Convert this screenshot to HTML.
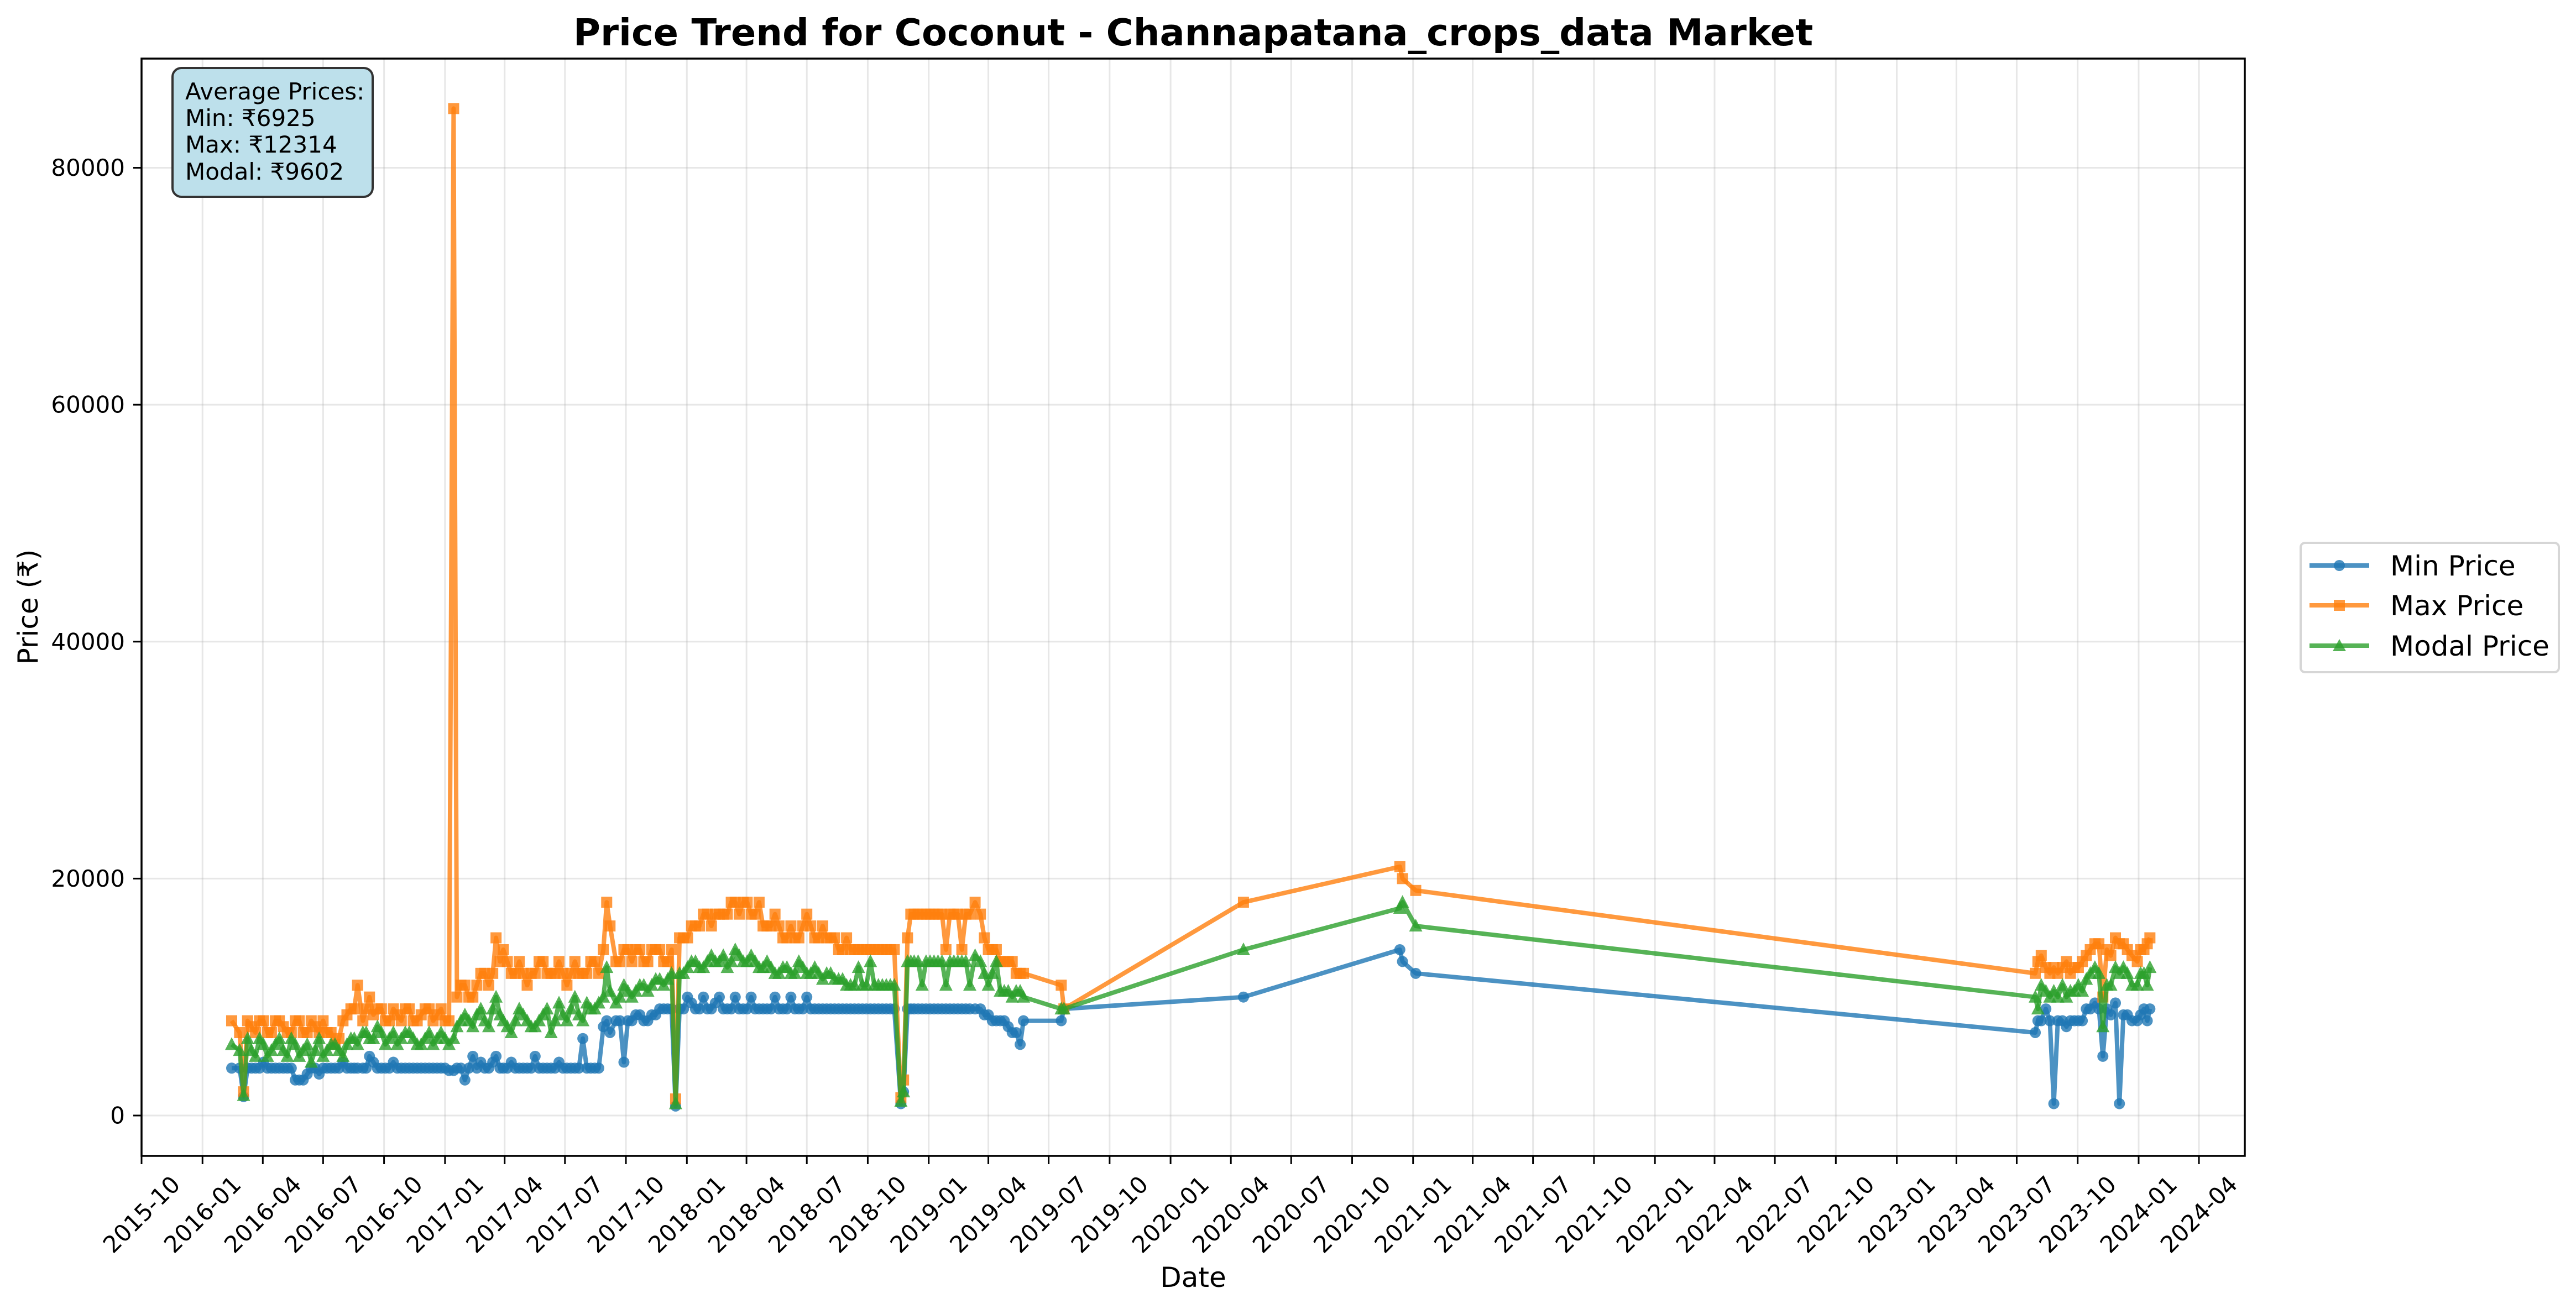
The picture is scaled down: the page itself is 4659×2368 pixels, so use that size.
<!DOCTYPE html>
<html>
<head>
<meta charset="utf-8">
<style>
  html, body { margin: 0; padding: 0; background: #ffffff; }
  svg { display: block; font-family: "DejaVu Sans", "Liberation Sans", sans-serif; }
</style>
</head>
<body>
<svg id="chart" xmlns="http://www.w3.org/2000/svg" width="4659" height="2368" viewBox="0 0 4659 2368">
  <rect x="0" y="0" width="4659" height="2368" fill="#ffffff"/>
  <g id="grid"></g>
  <g id="series"></g>
  <rect x="256" y="106" width="3804" height="1985" fill="none" stroke="#000" stroke-width="3.5"/>
  <g id="axes"></g>
  <text x="2158" y="82" text-anchor="middle" font-size="67" font-weight="bold" fill="#000">Price Trend for Coconut - Channapatana_crops_data Market</text>
  <text x="2158" y="2328" text-anchor="middle" font-size="50" fill="#000">Date</text>
  <text transform="translate(68,1098) rotate(-90)" text-anchor="middle" font-size="50" fill="#000">Price (₹)</text>

  <g>
    <rect x="312" y="123" width="362" height="233" rx="16" ry="16" fill="#bde0eb" stroke="#333" stroke-width="4"/>
    <text x="335" y="180" font-size="42" fill="#000">Average Prices:</text>
    <text x="335" y="228" font-size="42" fill="#000">Min: ₹6925</text>
    <text x="335" y="276" font-size="42" fill="#000">Max: ₹12314</text>
    <text x="335" y="325" font-size="42" fill="#000">Modal: ₹9602</text>
  </g>

  <g>
    <rect x="4161" y="982" width="467" height="234" rx="8" ry="8" fill="#fff" stroke="#d6d6d6" stroke-width="4"/>
    <g>
      <line x1="4177" y1="1023" x2="4285" y2="1023" stroke="#1f77b4" stroke-opacity="0.8" stroke-width="8"/>
      <circle cx="4231" cy="1023" r="10" fill="#1f77b4" fill-opacity="0.8"/>
      <text x="4323" y="1041" font-size="50" fill="#000">Min Price</text>
    </g>
    <g>
      <line x1="4177" y1="1095" x2="4285" y2="1095" stroke="#ff7f0e" stroke-opacity="0.8" stroke-width="8"/>
      <rect x="4221" y="1085" width="20" height="20" fill="#ff7f0e" fill-opacity="0.8"/>
      <text x="4323" y="1113" font-size="50" fill="#000">Max Price</text>
    </g>
    <g>
      <line x1="4177" y1="1168" x2="4285" y2="1168" stroke="#2ca02c" stroke-opacity="0.8" stroke-width="8"/>
      <polygon points="4231,1156 4243,1178 4219,1178" fill="#2ca02c" fill-opacity="0.8"/>
      <text x="4323" y="1186" font-size="50" fill="#000">Modal Price</text>
    </g>
  </g>
</svg>
<script>
// ---- data (days since 2015-10-01) ----
const dayOffsets = [136,148,154,160,172,184,196,208,220,232,244,256,268,280,292,304,316,326,334,344,356,368,380,392,404,416,428,440,452,464,471,476,488,500,512,524,535,546,558,570,582,594,606,618,630,642,654,666,678,690,697,702,707,716,728,740,752,764,776,788,800,806,812,824,836,848,860,872,884,896,908,920,932,944,956,968,980,992,1004,1016,1028,1040,1052,1064,1076,1088,1100,1112,1124,1136,1146,1150,1156,1166,1178,1190,1202,1214,1226,1238,1250,1258,1266,1278,1290,1302,1314,1326,1331,1388,1392,1663,1899,1903,1923,2858,2862,2867,2874,2880,2886,2892,2899,2905,2911,2917,2923,2929,2935,2941,2948,2954,2960,2966,2972,2979,2985,2991,2997,3004,3012,3017,3022,3027,3031];
const minPrices = [4000,4000,1600,4000,4000,4500,4000,4000,4000,3000,3000,4000,3500,4000,4000,4500,4000,4000,4000,5000,4000,4000,4500,4000,4000,4000,4000,4000,4000,3800,3800,4000,3000,5000,4500,4000,5000,4000,4500,4000,4000,5000,4000,4000,4500,4000,4000,6500,4000,4000,7500,8000,7000,8000,4500,8000,8500,8000,8500,9000,9000,800,9000,10000,9000,10000,9000,10000,9000,10000,9000,10000,9000,9000,10000,9000,10000,9000,10000,9000,9000,9000,9000,9000,9000,9000,9000,9000,9000,9000,1000,2000,9000,9000,9000,9000,9000,9000,9000,9000,9000,9000,9000,8500,8000,8000,7000,6000,8000,8000,9000,10000,14000,13000,12000,7000,8000,8000,9000,8000,1000,8000,8000,7500,8000,8000,8000,8000,9000,9000,9500,9000,5000,9000,8500,9500,1000,8500,8500,8000,8000,8500,9000,8000,9000];
const maxPrices = [8000,7000,2000,8000,7000,8000,7000,8000,7000,8000,7000,8000,7000,7000,6000,8000,9000,11000,8000,10000,9000,8000,9000,8000,9000,8000,9000,8000,9000,8000,85000,10000,11000,10000,12000,11000,15000,14000,12000,13000,11000,12000,13000,12000,13000,11000,13000,12000,13000,12000,14000,18000,16000,13000,14000,13000,14000,13000,14000,13000,14000,1400,15000,15000,16000,17000,16000,17000,17000,18000,18000,17000,18000,16000,17000,15000,16000,15000,17000,15000,16000,15000,14000,15000,14000,14000,14000,14000,14000,14000,1500,3000,15000,17000,17000,17000,17000,14000,17000,14000,17000,18000,17000,14000,14000,13000,13000,12000,12000,11000,9000,18000,21000,20000,19000,12000,13000,13500,12500,12000,12500,12000,12500,13000,12000,12500,12500,13000,13500,14000,14500,14500,10000,14000,13500,15000,14500,14500,14000,13500,13000,14000,14000,14500,15000];
const modalPrices = [6000,5500,1700,6500,5000,6000,5500,6500,5000,6000,5500,4500,6500,5500,6000,5000,6500,6000,7000,6500,7500,6000,7000,6500,7000,6000,6500,6000,7000,6000,6500,7500,8500,7500,9000,7500,10000,8000,7000,9000,8000,7500,8500,7000,9500,8000,10000,8000,9000,9500,10000,12500,10500,9500,11000,10000,11000,10500,11500,11000,12000,1000,12000,12500,13000,12500,13500,13000,12500,14000,13000,13500,12500,13000,12000,12500,12000,13000,12000,12500,11500,12000,11500,11000,11000,11000,13000,11000,11000,11000,1200,2000,13000,13000,11000,13000,13000,11000,13000,13000,11000,13500,13000,11000,13000,10500,10000,10500,10000,9000,9000,14000,17500,18000,16000,10000,9000,11000,10500,10000,10500,10000,11000,10000,10500,10500,11000,10500,11500,12000,12500,12000,7500,11000,11000,12500,12000,12500,12000,11000,11000,12000,12000,11000,12500];
// additional dense-period observations
const extraDays = [166,178,190,202,214,226,238,250,262,274,286,298,310,321,339,350,362,374,386,398,410,422,434,446,458,
  482,494,506,518,530,541,552,564,576,588,600,612,624,636,648,660,672,684,
  722,734,746,758,770,782,794,
  818,830,842,854,866,878,890,902,914,926,938,950,962,974,986,998,1010,1022,1034,1046,1058,1070,1082,1094,1106,1118,1130,
  1161,1172,1184,1196,1208,1220,1232,1244,1272,1284,1296,1308,1320];
const extraMin = [4000,4000,4000,4000,4000,4000,3000,3500,4000,4000,4000,4000,4000,4000,4000,4500,4000,4000,4000,4000,4000,4000,4000,4000,4000,
  4000,4000,4000,4000,4500,4000,4000,4000,4000,4000,4000,4000,4000,4000,4000,4000,4000,4000,
  8000,8000,8500,8000,8500,9000,9000,
  9000,9500,9000,9000,9500,9000,9000,9000,9000,9000,9000,9000,9000,9000,9000,9000,9000,9000,9000,9000,9000,9000,9000,9000,9000,9000,9000,
  9000,9000,9000,9000,9000,9000,9000,9000,8500,8000,8000,7500,7000];
const extraMax = [7500,8000,7000,8000,7500,7000,8000,7000,7500,8000,7000,6500,8500,9000,9000,8500,9000,8000,8500,9000,8000,8500,9000,8500,8000,
  11000,10000,11000,12000,12000,13000,13000,12000,12000,12000,13000,12000,12000,12000,12000,12000,12000,13000,
  13000,14000,14000,13000,14000,14000,13000,
  15000,16000,16000,17000,17000,17000,18000,17000,18000,17000,16000,16000,16000,15000,15000,16000,16000,15000,15000,15000,14000,14000,14000,14000,14000,14000,14000,
  17000,17000,17000,17000,17000,17000,17000,17000,15000,14000,13000,13000,12000];
const extraModal = [5500,6500,5000,6000,5500,6500,5000,6000,5500,5000,6000,5500,6000,6500,7000,6500,7000,6500,6000,7000,6500,6000,7000,6500,6500,
  8000,8000,8500,8000,9000,8500,7500,8000,8500,7500,8000,9000,8000,8500,9000,8500,9500,9000,
  10000,10500,10500,11000,11000,11500,11500,
  12000,13000,12500,13000,13000,13500,13000,13500,13000,13000,12500,12500,12000,12500,12000,12500,12000,12000,12000,11500,11500,11000,12500,11000,11000,11000,11000,
  13000,13000,13000,13000,13000,13000,13000,13000,12000,12000,10500,10500,10500];
const yTickValues = [0,20000,40000,60000,80000];

// ---- scales ----
const X0 = 256, PX_PER_DAY = 1.1984, Y0 = 2018, PX_PER_UNIT = 0.021431;
const PLOT_L = 256, PLOT_R = 4060, PLOT_T = 106, PLOT_B = 2091;
function xScale(day) { return X0 + day * PX_PER_DAY; }
function yScale(v) { return Y0 - v * PX_PER_UNIT; }
const ORIGIN = Date.UTC(2015, 9, 1);
function dayOf(y, m) { return (Date.UTC(y, m - 1, 1) - ORIGIN) / 86400000; }

const NS = 'http://www.w3.org/2000/svg';
function mk(tag, attrs, parent) {
  const el = document.createElementNS(NS, tag);
  for (const k in attrs) el.setAttribute(k, attrs[k]);
  parent.appendChild(el);
  return el;
}
const grid = document.getElementById('grid');
const axes = document.getElementById('axes');
const seriesG = document.getElementById('series');

// x ticks quarterly 2015-10 .. 2024-04
const xTicks = [];
for (let y = 2015, m = 10; y < 2024 || (y === 2024 && m <= 4); ) {
  xTicks.push({ y: y, m: m });
  m += 3; if (m > 12) { m -= 12; y++; }
}
xTicks.forEach(t => {
  const x = xScale(dayOf(t.y, t.m));
  const gl = mk('line', { x1: x, y1: PLOT_T, x2: x, y2: PLOT_B, stroke: '#b0b0b0', 'stroke-opacity': 0.3, 'stroke-width': 3 }, grid);
  
  
  const tk = mk('line', { x1: x, y1: PLOT_B, x2: x, y2: PLOT_B + 15, stroke: '#000', 'stroke-width': 3 }, axes);
  
  
  const lbl = mk('text', { transform: 'translate(' + x + ',2197) rotate(-45)', 'text-anchor': 'middle', 'dominant-baseline': 'central', 'font-size': 42, fill: '#000' }, axes);
  lbl.textContent = t.y + '-' + String(t.m).padStart(2, '0');
  
  
});
yTickValues.forEach(v => {
  const y = yScale(v);
  const gl = mk('line', { x1: PLOT_L, y1: y, x2: PLOT_R, y2: y, stroke: '#b0b0b0', 'stroke-opacity': 0.3, 'stroke-width': 3 }, grid);
  
  
  const tk = mk('line', { x1: PLOT_L - 15, y1: y, x2: PLOT_L, y2: y, stroke: '#000', 'stroke-width': 3 }, axes);
  
  
  const lbl = mk('text', { x: 226, y: y, 'text-anchor': 'end', 'dominant-baseline': 'central', 'font-size': 42, fill: '#000' }, axes);
  lbl.textContent = String(v);
  
  
});

// merge main and extra observations, sorted by day
function merged(mainVals, extraVals) {
  const rows = [];
  dayOffsets.forEach((d, i) => rows.push([d, mainVals[i]]));
  extraDays.forEach((d, i) => rows.push([d, extraVals[i]]));
  rows.sort((a, b) => a[0] - b[0]);
  return rows;
}

function drawSeries(rows, color, marker, name) {
  const g = mk('g', {}, seriesG);
  
  
  const pts = rows.map(r => xScale(r[0]).toFixed(1) + ',' + yScale(r[1]).toFixed(1)).join(' ');
  const line = mk('polyline', { points: pts, fill: 'none', stroke: color, 'stroke-opacity': 0.8, 'stroke-width': 8, 'stroke-linejoin': 'round' }, g);
  
  
  rows.forEach(r => {
    const x = xScale(r[0]), y = yScale(r[1]);
    let m;
    if (marker === 'circle') {
      m = mk('circle', { cx: x, cy: y, r: 10, fill: color, 'fill-opacity': 0.8 }, g);
    } else if (marker === 'square') {
      m = mk('rect', { x: x - 10, y: y - 10, width: 20, height: 20, fill: color, 'fill-opacity': 0.8 }, g);
    } else {
      m = mk('polygon', { points: x + ',' + (y - 13) + ' ' + (x + 12) + ',' + (y + 10) + ' ' + (x - 12) + ',' + (y + 10), fill: color, 'fill-opacity': 0.8 }, g);
    }
    
    
  });
}
drawSeries(merged(minPrices, extraMin), '#1f77b4', 'circle', 'min-price');
drawSeries(merged(maxPrices, extraMax), '#ff7f0e', 'square', 'max-price');
drawSeries(merged(modalPrices, extraModal), '#2ca02c', 'triangle', 'modal-price');
</script>
</body>
</html>
